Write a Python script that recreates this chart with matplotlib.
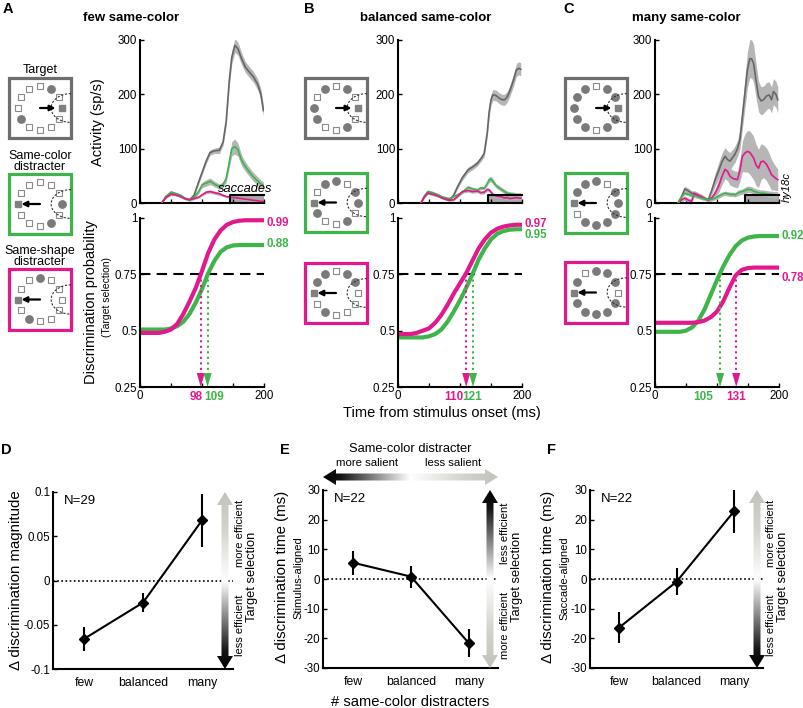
import numpy as np
import matplotlib
matplotlib.use('Agg')
import matplotlib.pyplot as plt
from matplotlib.patches import Rectangle, Polygon
from matplotlib.colors import LinearSegmentedColormap

plt.rcParams['font.family'] = ['Liberation Sans', 'DejaVu Sans']

W, H = 804, 708

GRAY = '#666666'
GREEN = '#3fb44a'
MAGENTA = '#e2198c'
BAND = '#b6b6b6'

# ---------------- activity traces (sp/s) ----------------
t_a = [35, 42, 50, 57, 65, 72, 80, 87, 95, 100, 107, 113, 120, 128, 134, 139, 144, 148, 153, 158, 164, 170, 177, 183, 190, 195, 199]
gray_a = [0, 12, 19, 17, 14, 9, 6, 14, 40, 56, 78, 93, 96, 97, 112, 150, 225, 268, 290, 284, 265, 250, 240, 232, 218, 200, 170]
green_a = [0, 12, 20, 17, 14, 9, 5, 10, 22, 33, 37, 40, 35, 30, 34, 45, 75, 100, 104, 98, 78, 67, 56, 48, 40, 35, 32]
mag_a = [0, 10, 16, 15, 12, 8, 6, 8, 11, 15, 20, 21, 19, 17, 14, 12, 11, 10, 10, 9, 8, 7, 6, 5, 4, 3, 3]
gray_a_sem = [0, 2, 3, 3, 3, 2, 2, 3, 4, 5, 5, 5, 5, 6, 6, 8, 10, 12, 13, 12, 11, 10, 10, 10, 10, 10, 10]
green_a_sem = [0, 2, 3, 3, 3, 2, 2, 3, 4, 5, 6, 6, 5, 5, 5, 7, 10, 13, 14, 12, 10, 9, 8, 8, 8, 7, 7]
mag_a_sem = [0, 1, 2, 2, 2, 2, 2, 2, 2, 2, 3, 3, 3, 3, 2, 2, 2, 2, 2, 2, 2, 2, 2, 2, 2, 2, 2]

t_b = [37, 43, 48, 55, 64, 72, 83, 90, 96, 104, 113, 120, 128, 134, 139, 144, 147, 150, 153, 158, 163, 168, 172, 176, 180, 186, 191, 195, 198]
gray_b = [0, 13, 20, 18, 14, 9, 5, 15, 30, 47, 61, 66, 73, 82, 91, 130, 168, 190, 199, 198, 193, 190, 190, 195, 205, 225, 245, 248, 246]
green_b = [0, 13, 21, 19, 15, 11, 8, 12, 15, 20, 29, 26, 24, 28, 27, 36, 43, 44, 40, 32, 28, 24, 21, 18, 17, 16, 15, 15, 15]
mag_b = [0, 12, 18, 16, 13, 9, 5, 6, 12, 21, 23, 21, 22, 19, 20, 25, 24, 20, 16, 13, 12, 11, 9, 10, 8, 9, 10, 9, 9]
gray_b_sem = [0, 2, 3, 3, 3, 2, 2, 3, 4, 5, 5, 5, 5, 5, 6, 8, 10, 10, 10, 10, 10, 10, 10, 10, 10, 11, 12, 12, 12]
green_b_sem = [0, 2, 3, 3, 3, 2, 2, 2, 3, 3, 3, 3, 3, 3, 3, 4, 5, 5, 5, 4, 4, 4, 4, 4, 4, 4, 4, 4, 4]
mag_b_sem = [0, 2, 2, 2, 2, 2, 2, 2, 2, 3, 3, 3, 3, 3, 3, 3, 3, 3, 3, 3, 3, 3, 3, 3, 3, 3, 3, 3, 3]

t_c = [37, 43, 48, 54, 59, 63, 67, 75, 86, 92, 97, 103, 108, 113, 117, 121, 126, 129, 133, 137, 141, 145, 149, 153, 156, 159, 163, 167, 171, 175, 180, 184, 188, 191, 195, 198]
gray_c = [0, 12, 26, 22, 18, 17, 15, 10, 6, 25, 43, 60, 76, 86, 80, 77, 85, 90, 100, 117, 160, 202, 245, 266, 265, 257, 225, 196, 188, 190, 197, 199, 190, 205, 200, 190]
mag_c = [0, 6, 9, 5, 3, 18, 16, 12, 5, 10, 18, 32, 49, 62, 58, 49, 45, 44, 43, 60, 86, 92, 95, 93, 88, 83, 70, 64, 76, 77, 71, 62, 52, 49, 45, 43]
green_c = [0, 12, 18, 16, 14, 13, 12, 9, 6, 7, 9, 13, 16, 18, 17, 16, 16, 15, 18, 20, 21, 23, 25, 25, 24, 22, 20, 19, 18, 18, 17, 16, 16, 15, 15, 15]
gray_c_sem = [0, 3, 5, 5, 5, 5, 4, 3, 3, 8, 12, 15, 16, 16, 16, 16, 15, 15, 15, 18, 22, 28, 33, 35, 35, 35, 32, 28, 26, 25, 25, 24, 24, 24, 24, 24]
mag_c_sem = [0, 3, 4, 4, 4, 5, 5, 4, 3, 5, 8, 12, 15, 17, 17, 16, 15, 15, 15, 20, 28, 35, 38, 40, 40, 40, 38, 35, 33, 30, 30, 30, 28, 25, 22, 20]
green_c_sem = [0, 2, 3, 3, 3, 3, 3, 3, 3, 3, 3, 4, 4, 4, 4, 4, 4, 4, 5, 5, 5, 6, 6, 6, 6, 6, 6, 6, 6, 6, 6, 6, 6, 6, 6, 6]

# ---------------- discrimination probability ----------------
t_disc = [0, 10, 20, 30, 40, 50, 60, 70, 80, 90, 100, 110, 120, 130, 140, 150, 160, 170, 180, 190, 200]
disc_mag_a = [0.49, 0.49, 0.49, 0.49, 0.495, 0.505, 0.53, 0.575, 0.63, 0.69, 0.765, 0.845, 0.905, 0.945, 0.97, 0.982, 0.988, 0.99, 0.99, 0.99, 0.99]
disc_green_a = [0.505, 0.505, 0.505, 0.505, 0.505, 0.51, 0.52, 0.54, 0.575, 0.625, 0.685, 0.755, 0.81, 0.85, 0.87, 0.878, 0.88, 0.88, 0.88, 0.88, 0.88]
disc_mag_b = [0.485, 0.485, 0.485, 0.49, 0.50, 0.51, 0.535, 0.57, 0.615, 0.665, 0.71, 0.755, 0.81, 0.865, 0.905, 0.935, 0.952, 0.962, 0.967, 0.97, 0.97]
disc_green_b = [0.47, 0.47, 0.47, 0.47, 0.47, 0.475, 0.485, 0.505, 0.54, 0.585, 0.635, 0.69, 0.75, 0.815, 0.865, 0.905, 0.93, 0.942, 0.948, 0.95, 0.95]
disc_mag_c = [0.535, 0.535, 0.535, 0.535, 0.535, 0.535, 0.535, 0.538, 0.545, 0.56, 0.585, 0.63, 0.69, 0.745, 0.77, 0.778, 0.78, 0.78, 0.78, 0.78, 0.78]
disc_green_c = [0.495, 0.495, 0.495, 0.495, 0.495, 0.50, 0.515, 0.545, 0.595, 0.66, 0.725, 0.785, 0.835, 0.875, 0.90, 0.913, 0.918, 0.92, 0.92, 0.92, 0.92]

thresh_mag = [98, 110, 131]
thresh_green = [109, 121, 105]
asym_mag = ['0.99', '0.97', '0.78']
asym_green = ['0.88', '0.95', '0.92']

titles = ['few same-color', 'balanced same-color', 'many same-color']
letters = ['A', 'B', 'C']

# icons: target position (clock index, 0 = 3 o'clock, counter-clockwise) and filled-circle positions
icon_target = [0, 6, 6]
icon_filled = [
    [[2, 7], [0, 10], [3, 8]],
    [[2, 10, 7, 6, 4], [0, 3, 4, 1, 7, 10], [4, 2, 5, 8, 1]],
    [[1, 2, 4, 5, 6, 7, 8, 10, 11], [0, 1, 3, 4, 5, 8, 9, 10, 11], [1, 2, 3, 5, 7, 8, 9, 10, 11]],
]

# ---------------- summary panels ----------------
categories = ['few', 'balanced', 'many']
d_mean = [-0.066, -0.025, 0.068]
d_err = [0.014, 0.011, 0.030]
e_mean = [5.5, 0.8, -21.7]
e_err = [4.1, 3.7, 4.7]
f_mean = [-16.4, -0.9, 22.9]
f_err = [5.3, 4.5, 7.4]


fig = plt.figure(figsize=(W / 100, H / 100), dpi=100)


def px_axes(x0, y0, x1, y1):
    return fig.add_axes([x0 / W, 1 - y1 / H, (x1 - x0) / W, (y1 - y0) / H])


def ftext(x, y, s, **kw):
    fig.text(x / W, 1 - y / H, s, **kw)


def style_axes(ax, tick_size=8.3):
    for s in ['top', 'right']:
        ax.spines[s].set_visible(False)
    for s in ['left', 'bottom']:
        ax.spines[s].set_linewidth(1.5)
    ax.tick_params(direction='in', length=3, width=1, labelsize=tick_size, pad=2)


def draw_icon(box, color, target_k, filled):
    ax = px_axes(*box)
    ax.set_xlim(-1, 1)
    ax.set_ylim(-1, 1)
    ax.axis('off')
    ax.add_patch(Rectangle((-1, -1), 2, 2, fill=False, ec=color, lw=2.3, clip_on=False))
    r = 0.72
    for k in range(12):
        a = np.deg2rad(30 * k)
        x, y = r * np.cos(a), r * np.sin(a)
        if k == target_k:
            ax.plot(x, y, 's', ms=4.5, color='#808080')
        elif k in filled:
            ax.plot(x, y, 'o', ms=5.3, color='#7a7a7a')
        else:
            ax.plot(x, y, 's', ms=4, mfc='white', mec='#8a8a8a', mew=0.8)
    th = np.linspace(np.pi / 2, 3 * np.pi / 2, 60)
    ax.plot(1 + 0.64 * np.cos(th), 0.48 * np.sin(th), color='#333333', lw=0.8, ls=(0, (2, 1.5)))
    tip = 0.5 if target_k == 0 else -0.6
    ax.annotate('', xy=(tip, 0), xytext=(0, 0),
                arrowprops=dict(arrowstyle='-|>', color='k', lw=1.6, mutation_scale=8, shrinkA=0, shrinkB=0))


def grad_arrow(box, colors, vertical, shaft=3.5, head_w=8, head_l=13):
    x0, y0, x1, y1 = box
    ax = px_axes(x0, y0, x1, y1)
    w, h = x1 - x0, y1 - y0
    ax.set_xlim(0, w)
    ax.set_ylim(0, h)
    ax.axis('off')
    cmap = LinearSegmentedColormap.from_list('g', colors)
    if vertical:
        grad = np.linspace(0, 1, 256).reshape(-1, 1)
        c = w / 2
        pts = [(c, h), (c + head_w, h - head_l), (c + shaft, h - head_l), (c + shaft, head_l),
               (c + head_w, head_l), (c, 0), (c - head_w, head_l), (c - shaft, head_l),
               (c - shaft, h - head_l), (c - head_w, h - head_l)]
    else:
        grad = np.linspace(0, 1, 256).reshape(1, -1)
        c = h / 2
        pts = [(0, c), (head_l, c + head_w), (head_l, c + shaft), (w - head_l, c + shaft),
               (w - head_l, c + head_w), (w, c), (w - head_l, c - head_w), (w - head_l, c - shaft),
               (head_l, c - shaft), (head_l, c - head_w)]
    im = ax.imshow(grad, extent=[0, w, 0, h], origin='lower', cmap=cmap, aspect='auto',
                   interpolation='bilinear')
    poly = Polygon(pts, closed=True, fc='none', ec='none')
    ax.add_patch(poly)
    im.set_clip_path(poly)


# ---------------- top row ----------------
panel_left = [140, 398, 655]
title_x = [131, 426, 686]
letter_x = [8, 309, 569]
icon_x = [(9, 71), (305, 367), (565, 627)]
icon_y = [[(78, 138), (174, 234), (269, 330)],
          [(78, 138), (173, 232), (263, 323)],
          [(78, 138), (173, 233), (262, 323)]]
label_x = [[90, 119], [90, 119], [131, 77]]   # (magenta, green) label centres

traces = [
    (t_a, [(gray_a, gray_a_sem, GRAY), (green_a, green_a_sem, GREEN), (mag_a, mag_a_sem, MAGENTA)]),
    (t_b, [(gray_b, gray_b_sem, GRAY), (green_b, green_b_sem, GREEN), (mag_b, mag_b_sem, MAGENTA)]),
    (t_c, [(gray_c, gray_c_sem, GRAY), (mag_c, mag_c_sem, MAGENTA), (green_c, green_c_sem, GREEN)]),
]
discs = [(disc_green_a, disc_mag_a), (disc_green_b, disc_mag_b), (disc_green_c, disc_mag_c)]
asym_pos = [(0.98, 0.885), (0.975, 0.925), (0.735, 0.92)]   # (magenta, green) label heights

for i in range(3):
    x0 = panel_left[i]
    ftext(letter_x[i], 9, letters[i], fontsize=10.5, fontweight='bold', ha='center', va='center')
    ftext(title_x[i], 18, titles[i], fontsize=9.5, fontweight='bold', ha='center', va='center')

    # icons
    for j, col in enumerate(['#6e6e6e', GREEN, MAGENTA]):
        (ix0, ix1), (iy0, iy1) = icon_x[i], icon_y[i][j]
        draw_icon((ix0, iy0, ix1, iy1), col, icon_target[j], icon_filled[i][j])

    # activity
    ax = px_axes(x0, 40, x0 + 124, 203)
    t, rows = traces[i]
    t = np.array(t)
    ax.add_patch(Rectangle((145, 0), 55, 15, fc='#a8a8a8', ec='none', zorder=1))
    for v, s, c in rows:
        v, s = np.array(v), np.array(s)
        ax.fill_between(t, v - s, v + s, color=BAND, lw=0, zorder=2)
    for v, s, c in rows:
        ax.plot(t, v, color=c, lw=1.2, zorder=3)
    ax.plot([145, 145, 200], [0, 15, 15], color='k', lw=1.5, zorder=4, clip_on=False)
    ax.set_xlim(0, 200)
    ax.set_ylim(0, 300)
    ax.set_xticks([0, 50, 100, 150, 200])
    ax.set_xticklabels([])
    ax.set_yticks([0, 100, 200, 300])
    style_axes(ax)
    if i == 0:
        ax.text(170, 25, 'saccades', fontsize=9.3, style='italic', ha='center', va='center', zorder=5)

    # discrimination
    ax = px_axes(x0, 218, x0 + 124, 387)
    g, m = discs[i]
    ax.plot([0, 200], [0.75, 0.75], color='k', lw=1.5, ls=(0, (5, 3)))
    ax.plot(t_disc, g, color=GREEN, lw=3, solid_capstyle='butt')
    ax.plot(t_disc, m, color=MAGENTA, lw=3, solid_capstyle='butt')
    for th, col in [(thresh_mag[i], MAGENTA), (thresh_green[i], GREEN)]:
        ax.plot([th, th], [0.75, 0.30], color=col, lw=1.5, ls=':')
        ax.add_patch(Polygon([(th - 6.5, 0.312), (th + 6.5, 0.312), (th, 0.25)], closed=True,
                             fc=col, ec='none', clip_on=False))
    ax.set_xlim(0, 200)
    ax.set_ylim(0.25, 1)
    ax.set_xticks([0, 50, 100, 150, 200])
    ax.set_xticklabels(['0', '', '', '', '200'])
    ax.set_yticks([0.25, 0.5, 0.75, 1])
    ax.set_yticklabels(['0.25', '0.5', '0.75', '1'])
    style_axes(ax)
    tr = ax.get_xaxis_transform()
    ax.text(label_x[i][0], -0.025, str(thresh_mag[i]), color=MAGENTA, fontsize=8.5,
            fontweight='bold', ha='center', va='top', transform=tr)
    ax.text(label_x[i][1], -0.025, str(thresh_green[i]), color=GREEN, fontsize=8.5,
            fontweight='bold', ha='center', va='top', transform=tr)
    ax.text(204, asym_pos[i][0], asym_mag[i], color=MAGENTA, fontsize=8.3, fontweight='bold',
            ha='left', va='center', clip_on=False)
    ax.text(204, asym_pos[i][1], asym_green[i], color=GREEN, fontsize=8.3, fontweight='bold',
            ha='left', va='center', clip_on=False)

ftext(40, 70, 'Target', fontsize=9, ha='center', va='center')
ftext(40, 156, 'Same-color', fontsize=9, ha='center', va='center')
ftext(40, 167, 'distracter', fontsize=9, ha='center', va='center')
ftext(40, 251, 'Same-shape', fontsize=9, ha='center', va='center')
ftext(40, 262, 'distracter', fontsize=9, ha='center', va='center')
ftext(98, 122, 'Activity (sp/s)', fontsize=10.5, rotation=90, ha='center', va='center')
ftext(91, 302, 'Discrimination probability', fontsize=10.5, rotation=90, ha='center', va='center')
ftext(107, 297, '(Target selection)', fontsize=7.5, rotation=90, ha='center', va='center')
ftext(442, 413, 'Time from stimulus onset (ms)', fontsize=10.5, ha='center', va='center')
ftext(787, 187, 'hy18c', fontsize=8, style='italic', rotation=90, ha='center', va='center')

# ---------------- bottom row ----------------
light = '#c2c2ba'
up_light = [(0, '#000000'), (0.1, '#141414'), (0.5, '#ffffff'), (0.78, '#d4d4ce'), (1, light)]
up_dark = [(0, light), (0.22, '#d4d4ce'), (0.5, '#ffffff'), (0.9, '#141414'), (1, '#000000')]

bottom = [
    dict(box=(53, 492, 233, 669), xlim=(0.475, 3.525), mean=d_mean, err=d_err, ylim=(-0.1, 0.1),
         yticks=[-0.1, -0.05, 0, 0.05, 0.1], yticklabels=['-0.1', '-0.05', '0', '0.05', '0.1'],
         n='N=29', letter=('D', 6), arrow=(217, 492, 233, 669), cols=up_light),
    dict(box=(323, 490, 498, 668), xlim=(0.483, 3.5), mean=e_mean, err=e_err, ylim=(-30, 30),
         yticks=[-30, -20, -10, 0, 10, 20, 30], yticklabels=['-30', '-20', '-10', '0', '10', '20', '30'],
         n='N=22', letter=('E', 285), arrow=(482, 490, 498, 668), cols=up_dark),
    dict(box=(590, 490, 763, 668), xlim=(0.496, 3.5), mean=f_mean, err=f_err, ylim=(-30, 30),
         yticks=[-30, -20, -10, 0, 10, 20, 30], yticklabels=['-30', '-20', '-10', '0', '10', '20', '30'],
         n='N=22', letter=('F', 552), arrow=(749, 490, 765, 668), cols=up_light),
]

for p in bottom:
    ax = px_axes(*p['box'])
    ax.axhline(0, color='k', lw=1.2, ls=(0, (1, 1.5)))
    ax.errorbar([1, 2, 3], p['mean'], yerr=p['err'], fmt='-D', color='k', ms=5, lw=1.5,
                elinewidth=1.5, capsize=0)
    ax.set_xlim(*p['xlim'])
    ax.set_ylim(*p['ylim'])
    ax.set_xticks([1, 2, 3])
    ax.set_xticklabels(categories)
    ax.set_yticks(p['yticks'])
    ax.set_yticklabels(p['yticklabels'])
    style_axes(ax, tick_size=8.3)
    ax.tick_params(axis='x', length=0, pad=6, labelsize=8.8)
    ax.text(0.06, 0.95, p['n'], transform=ax.transAxes, fontsize=9.5, ha='left', va='center')
    ftext(p['letter'][1], 450, p['letter'][0], fontsize=10.5, fontweight='bold', ha='center', va='center')
    grad_arrow(p['arrow'], p['cols'], vertical=True)

# gradient arrow above E
grad_arrow((323, 469, 498, 485), [(0, '#000000'), (0.1, '#141414'), (0.5, '#ffffff'), (0.8, '#d4d4ce'), (1, light)],
           vertical=False)
ftext(410, 449, 'Same-color distracter', fontsize=9.3, ha='center', va='center')
ftext(367, 463, 'more salient', fontsize=8.2, ha='center', va='center')
ftext(453, 463, 'less salient', fontsize=8.2, ha='center', va='center')

# arrow annotations
for x, top, bot in [(240, 'more efficient', 'less efficient'),
                    (505, 'less efficient', 'more efficient'),
                    (771, 'more efficient', 'less efficient')]:
    ftext(x, 533, top, fontsize=8, rotation=90, ha='center', va='center')
    ftext(x, 625, bot, fontsize=8, rotation=90, ha='center', va='center')
    ftext(x + 12, 577, 'Target selection', fontsize=9.3, rotation=90, ha='center', va='center')

ftext(16, 580, '\u0394 discrimination magnitude', fontsize=10.8, rotation=90, ha='center', va='center')
ftext(282, 577, '\u0394 discrimination time (ms)', fontsize=10.8, rotation=90, ha='center', va='center')
ftext(298, 578, 'Stimulus-aligned', fontsize=8, rotation=90, ha='center', va='center')
ftext(548, 577, '\u0394 discrimination time (ms)', fontsize=10.8, rotation=90, ha='center', va='center')
ftext(564, 578, 'Saccade-aligned', fontsize=8, rotation=90, ha='center', va='center')
ftext(410, 702, '# same-color distracters', fontsize=10.6, ha='center', va='center')

fig.savefig('out.png', dpi=100)
